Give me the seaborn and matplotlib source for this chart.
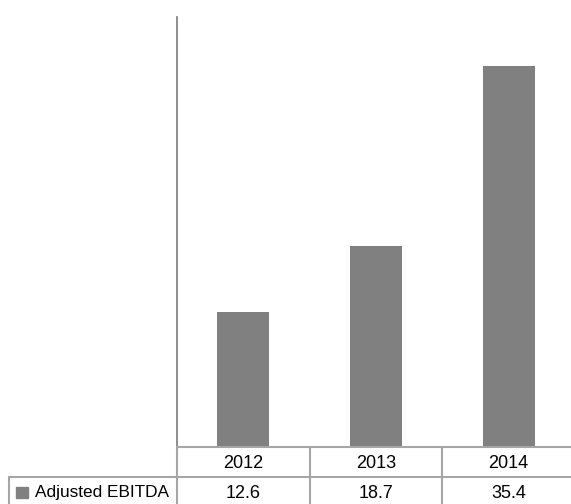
import matplotlib
matplotlib.use("Agg")
import matplotlib.pyplot as plt
import matplotlib.transforms as mtransforms
from matplotlib.lines import Line2D
from matplotlib.patches import Rectangle
import pandas as pd
import seaborn as sns

# Chart data
years = ["2012", "2013", "2014"]
ebitda = [12.6, 18.7, 35.4]
series_name = "Adjusted EBITDA"

df = pd.DataFrame({"year": years, "value": ebitda})

sns.set_style("white")
plt.rcParams["font.family"] = ["Liberation Sans", "DejaVu Sans"]

W, H = 571, 504
fig = plt.figure(figsize=(W / 100, H / 100), dpi=100)
fig.patch.set_facecolor("white")


def fx(px):
    return px / W


def fy(py):
    return 1 - py / H


ax = fig.add_axes([fx(177), fy(447), (575 - 177) / W, (447 - 17) / H])
sns.barplot(data=df, x="year", y="value", color="#808080", width=0.39,
            saturation=1, linewidth=0, ax=ax)
ax.set_xlim(-0.5, len(years) - 0.5)
ax.set_ylim(0, 40)
ax.set_xlabel("")
ax.set_ylabel("")
ax.set_xticks([])
ax.set_yticks([])
for s in ["top", "right", "bottom"]:
    ax.spines[s].set_visible(False)
ax.spines["left"].set_color("#868686")
ax.spines["left"].set_linewidth(1.3)

# Data table under the chart
grid = "#a6a6a6"
trans = mtransforms.blended_transform_factory(ax.transData, fig.transFigure)
x_left = -0.5
x_right = len(years) - 0.5

fig.add_artist(Line2D([x_left, x_right], [fy(447), fy(447)], transform=trans,
                      color=grid, lw=1.5))
fig.add_artist(Line2D([fx(9), fx(575)], [fy(477), fy(477)], color=grid, lw=1.5))
for i in range(len(years)):
    fig.add_artist(Line2D([i - 0.5, i - 0.5], [fy(447), fy(510)], transform=trans,
                          color=grid, lw=1.5))
fig.add_artist(Line2D([fx(9), fx(9)], [fy(477), fy(510)], color=grid, lw=1.5))

for i, (yr, v) in enumerate(zip(years, ebitda)):
    fig.text(i, fy(463), yr, transform=trans, ha="center", va="center",
             fontsize=13, color="#000000")
    fig.text(i, fy(493), f"{v:.1f}", transform=trans, ha="center", va="center",
             fontsize=13, color="#000000")

fig.add_artist(Rectangle((fx(16), fy(498)), 12 / W, 11 / H, color="#808080",
                         transform=fig.transFigure))
fig.text(fx(35), fy(493), series_name, ha="left", va="center", fontsize=12.4,
         color="#000000")

fig.savefig("out.png", dpi=100)
